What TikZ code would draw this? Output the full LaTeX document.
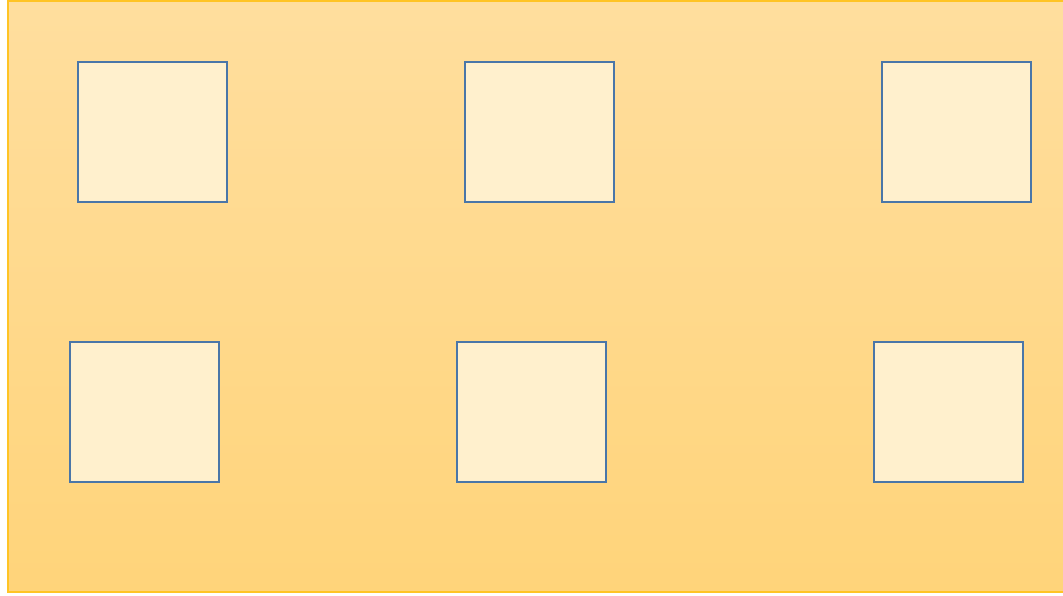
\documentclass[tikz,border=0pt]{standalone}
\begin{document}
\begin{tikzpicture}[x=1pt,y=-1pt,
  bx/.style={draw=boxblue,line width=2.5pt,fill=boxfill,minimum width=149pt,minimum height=140pt,inner sep=0pt}]
\definecolor{bgtop}{HTML}{FFDE9E}
\definecolor{bgbot}{HTML}{FFD47A}
\definecolor{bgline}{HTML}{FFC425}
\definecolor{boxblue}{HTML}{4A76A8}
\definecolor{boxfill}{HTML}{FFF0CD}
\useasboundingbox (0,0) rectangle (1063,595);
\shade[top color=bgtop,bottom color=bgbot] (8,1) rectangle (1066,592);
\draw[bgline,line width=1.5pt] (1066,1) -- (8,1) -- (8,592) -- (1066,592);
\node[bx] (a) at (152.5,132) {};
\node[bx] (b) at (539.5,132) {};
\node[bx] (c) at (956.5,132) {};
\node[bx] (d) at (144.5,412) {};
\node[bx] (e) at (531.5,412) {};
\node[bx] (f) at (948.5,412) {};
\end{tikzpicture}
\end{document}
